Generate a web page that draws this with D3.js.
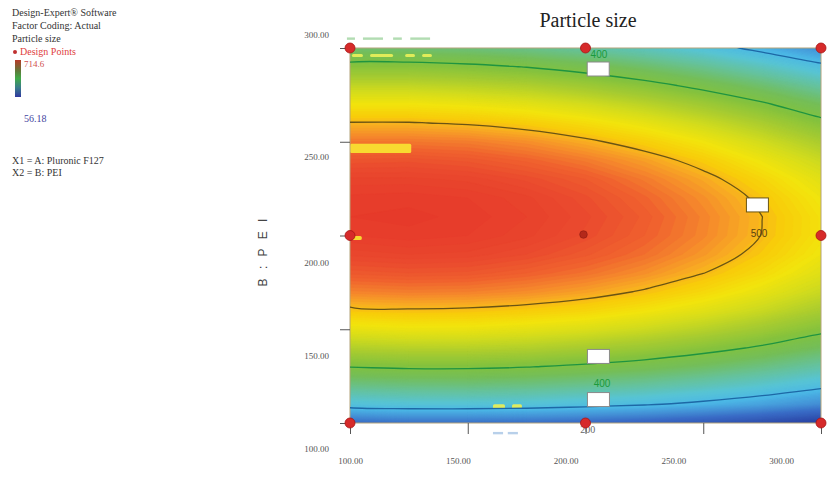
<!DOCTYPE html>
<html><head><meta charset="utf-8">
<script src="https://cdn.jsdelivr.net/npm/d3@7"></script>
<style>body{margin:0;background:#fff}svg{display:block}</style>
</head><body><svg id="c" width="831" height="489"></svg>
<script>
// ---------------- data ----------------
const factorA = [100, 125, 150, 175, 200, 225, 250, 275, 300];          // A: Pluronic F127 (columns)
const factorB = [100, 110, 120, 130, 140, 150, 160, 170, 180, 190, 200,
                 210, 220, 230, 240, 250, 260, 270, 280, 290, 300];     // B: PEI (rows)
// particle size, one row per B value
const particleSize = [
  [239, 243, 243, 241, 236, 229, 219, 207, 191],
  [314, 318, 318, 316, 310, 303, 293, 280, 264],
  [360, 363, 364, 361, 355, 348, 337, 324, 307],
  [401, 404, 404, 401, 395, 387, 376, 362, 345],
  [437, 440, 440, 437, 430, 422, 410, 396, 378],
  [469, 472, 471, 467, 461, 452, 440, 425, 407],
  [496, 498, 497, 493, 487, 477, 465, 450, 431],
  [518, 520, 519, 515, 508, 498, 485, 469, 450],
  [535, 537, 536, 531, 524, 514, 500.4, 484, 464],
  [547, 549, 548, 543, 535, 525, 511, 494, 474],
  [555, 557, 555, 550, 542, 531, 517, 499.5, 479],
  [558, 559, 557, 552, 544, 533, 518, 500.1, 479],
  [556, 557, 555, 550, 541, 529, 514, 496, 474],
  [550, 550, 548, 542, 534, 521, 506, 487, 465],
  [538, 539, 536, 530, 521, 509, 493, 473, 451],
  [522, 522, 520, 514, 504, 491, 475, 455, 432],
  [501, 501, 498, 492, 482, 469, 452, 432, 408],
  [476, 476, 472, 466, 456, 442, 425, 404, 380],
  [445, 445, 441, 435, 424, 410, 392, 371, 346],
  [410, 410, 406, 399, 388, 373, 355, 333, 308],
  [370, 369, 365, 358, 347, 332, 314, 291, 266]
];
const contourLevels = [300, 400, 500];
const designA = [100, 100, 100, 200, 200, 300, 300, 300];
const designB = [100, 200, 300, 100, 300, 100, 200, 300];
const centerA = [200];
const centerB = [200];
const xTickLabels = [100, 150, 200, 250, 300];
const yTickLabels = [100, 150, 200, 250, 300];
const legendMax = "714.6";
const legendMin = "56.18";
const contourLabelText = ["400", "400", "200", "500"];
const contourLabelA = [205.7, 207, 201, 273.7];
const contourLabelB = [296.3, 121.3, 96.8, 201.3];
const contourLabelLevel = [400, 400, 200, 500];
const labelBoxA = [205.4, 205.5, 205.5, 273];
const labelBoxB = [288.8, 135.5, 112.5, 216.3];
const labelBoxLevel = [400, 400, 300, 500];

// ---------------- drawing ----------------
const svg = d3.select('#c');
const x = d3.scaleLinear().domain([100, 300]).range([350, 821]);
const y = d3.scaleLinear().domain([100, 300]).range([423, 48]);
const xLab = d3.scaleLinear().domain([100, 300]).range([350, 781]);
const yLab = d3.scaleLinear().domain([100, 150, 200, 250, 300]).range([449, 356, 263, 157, 35]);

const stops = [
  [150, '#26368a'], [200, '#2c48a8'], [240, '#3a6cc6'], [270, '#4596d8'],
  [295, '#4cb8e6'], [320, '#58c4d4'], [350, '#66c29a'], [380, '#74be58'],
  [405, '#84c23e'], [430, '#a8cc30'], [455, '#d4dc1c'], [475, '#f2e40c'],
  [492, '#f8cc0a'], [503, '#f8ac22'], [515, '#f5882c'], [528, '#f0622e'],
  [542, '#ea4a2e'], [560, '#e6382a']
];
const color = d3.scaleLinear().domain(stops.map(d => d[0])).range(stops.map(d => d[1])).clamp(true);
const lineColor = {300: '#1d68a6', 400: '#1f9440', 500: '#6a5414'};

const nx = factorA.length, ny = factorB.length;
const stepA = factorA[1] - factorA[0], stepB = factorB[1] - factorB[0];
const values = particleSize.flat();
const toPx = p => [x(factorA[0] + (p[0] - 0.5) * stepA), y(factorB[0] + (p[1] - 0.5) * stepB)];
const proj = d3.geoTransform({point(px, py) { const p = toPx([px, py]); this.stream.point(p[0], p[1]); }});
const path = d3.geoPath(proj);

const defs = svg.append('defs');
defs.append('clipPath').attr('id', 'plotClip').append('rect')
  .attr('x', x(100)).attr('y', y(300)).attr('width', x(300) - x(100)).attr('height', y(100) - y(300));

// filled surface
const bands = d3.contours().size([nx, ny]).thresholds(d3.range(150, 562, 3))(values);
const gSurf = svg.append('g').attr('clip-path', 'url(#plotClip)');
gSurf.selectAll('path.band').data(bands).join('path').attr('class', 'band')
  .attr('d', path).attr('fill', d => color(d.value)).attr('stroke', d => color(d.value)).attr('stroke-width', 0.6);

// artifacts seen on the picture (in data units)
const artA0 = [100, 100.8, 100.8, 108.5, 123.4, 130.6, 160.7, 168.8];
const artA1 = [126, 105, 105.5, 118.3, 127.6, 134.8, 165.8, 173];
const artB0 = [244, 197.6, 295.2, 295.2, 295.2, 295.2, 107.5, 107.5];
const artB1 = [249, 199.8, 296.8, 296.8, 296.8, 296.8, 110, 110];
artA0.forEach((a, i) => {
  gSurf.append('rect').attr('x', x(a)).attr('y', y(artB1[i])).attr('width', x(artA1[i]) - x(a))
    .attr('height', y(artB0[i]) - y(artB1[i])).attr('rx', 1.5)
    .attr('fill', i < 2 ? '#f8e030' : '#e6ee5a').attr('opacity', 0.95);
});
const outA0 = [98.7, 105.5, 118.3, 125.6, 160.7, 167];
const outA1 = [102.1, 114, 122, 134, 165, 171.3];
const outB = [305, 305, 305, 305, 94.6, 94.6];
outA0.forEach((a, i) => {
  svg.append('rect').attr('x', x(a)).attr('y', y(outB[i]) - 1.2).attr('width', x(outA1[i]) - x(a))
    .attr('height', 2.4).attr('fill', i < 4 ? '#b2dcb2' : '#b8d0ea');
});

// frame
svg.append('rect').attr('x', x(100)).attr('y', y(300)).attr('width', x(300) - x(100)).attr('height', y(100) - y(300))
  .attr('fill', 'none').attr('stroke', '#b4a47a').attr('stroke-width', 1);

// contour lines
const lines = d3.contours().size([nx, ny]).thresholds(contourLevels)(values);
const lineGen = d3.line().curve(d3.curveCatmullRomClosed.alpha(0.5));
const gLines = svg.append('g').attr('clip-path', 'url(#plotClip)');
lines.forEach(c => {
  c.coordinates.forEach(poly => poly.forEach(ring => {
    const pts = ring.slice(0, -1).map(toPx);
    gLines.append('path').attr('d', lineGen(pts)).attr('fill', 'none')
      .attr('stroke', lineColor[c.value]).attr('stroke-width', 1.3);
  }));
});

// label boxes and contour labels
labelBoxA.forEach((a, i) => {
  svg.append('rect').attr('x', x(a) - 11).attr('y', y(labelBoxB[i]) - 7).attr('width', 22).attr('height', 14)
    .attr('fill', '#fff').attr('stroke', labelBoxLevel[i] === 500 ? '#6a5414' : '#8a8a8a').attr('stroke-width', 1);
});
contourLabelText.forEach((t, i) => {
  const lv = contourLabelLevel[i];
  svg.append('text').attr('x', x(contourLabelA[i])).attr('y', y(contourLabelB[i]))
    .attr('text-anchor', 'middle').attr('dominant-baseline', 'central')
    .attr('font-family', lv === 200 ? 'Liberation Serif' : 'Liberation Sans').attr('font-size', 10)
    .attr('fill', lv === 400 ? '#1a9a3c' : lv === 500 ? '#5a4410' : '#666').text(t);
});

// axes: ticks
const gx = svg.append('g').attr('transform', `translate(0,${y(100)})`)
  .call(d3.axisBottom(x).tickValues(xTickLabels).tickSize(11).tickFormat(''));
gx.select('.domain').remove();
gx.selectAll('line').attr('stroke', '#555');
const gy = svg.append('g').attr('transform', `translate(${x(100)},0)`)
  .call(d3.axisLeft(y).tickValues(yTickLabels).tickSize(10).tickFormat(''));
gy.select('.domain').remove();
gy.selectAll('line').attr('stroke', '#555');

// axes: labels
const gxl = svg.append('g').attr('transform', 'translate(0,458)')
  .call(d3.axisBottom(xLab).tickValues(xTickLabels).tickSize(0).tickPadding(0).tickFormat(d3.format('.2f')));
gxl.select('.domain').remove();
gxl.selectAll('text').attr('font-family', 'Liberation Serif').attr('font-size', 9).attr('fill', '#555');
const gyl = svg.append('g').attr('transform', 'translate(329,0)')
  .call(d3.axisLeft(yLab).tickValues(yTickLabels).tickSize(0).tickPadding(0).tickFormat(d3.format('.2f')));
gyl.select('.domain').remove();
gyl.selectAll('text').attr('font-family', 'Liberation Serif').attr('font-size', 9).attr('fill', '#555');

// design points
designA.forEach((a, i) => {
  svg.append('circle').attr('cx', x(a)).attr('cy', y(designB[i])).attr('r', 5)
    .attr('fill', '#d62a2a').attr('stroke', '#a81414').attr('stroke-width', 0.8);
});
centerA.forEach((a, i) => {
  svg.append('circle').attr('cx', x(a) - 2).attr('cy', y(centerB[i]) - 1).attr('r', 3.8)
    .attr('fill', '#b4281a').attr('stroke', '#8a1a10').attr('stroke-width', 0.6);
});

// titles
svg.append('text').attr('x', 588).attr('y', 27).attr('text-anchor', 'middle')
  .attr('font-family', 'Liberation Serif').attr('font-size', 20).attr('fill', '#222').text('Particle size');
svg.append('text').attr('transform', 'translate(267,251) rotate(-90)').attr('text-anchor', 'middle')
  .attr('font-family', 'Liberation Sans').attr('font-size', 12).attr('letter-spacing', 3)
  .attr('fill', '#444').text('B : P E I');

// left info panel
const info = svg.append('g').attr('font-family', 'Liberation Serif').attr('font-size', 10);
info.append('text').attr('x', 12).attr('y', 16).attr('fill', '#333').text('Design-Expert® Software');
info.append('text').attr('x', 12).attr('y', 29).attr('fill', '#333').text('Factor Coding: Actual');
info.append('text').attr('x', 12).attr('y', 42).attr('fill', '#333').text('Particle size');
info.append('circle').attr('cx', 15).attr('cy', 52).attr('r', 2).attr('fill', '#c03030');
info.append('text').attr('x', 20).attr('y', 55).attr('fill', '#e04040').text('Design Points');
const grad = defs.append('linearGradient').attr('id', 'cbar').attr('x1', 0).attr('x2', 0).attr('y1', 0).attr('y2', 1);
[['0', '#b83a2a'], ['0.3', '#5e7a3a'], ['0.5', '#40aa48'], ['0.75', '#3a7c8c'], ['1', '#3038a0']]
  .forEach(s => grad.append('stop').attr('offset', s[0]).attr('stop-color', s[1]));
info.append('rect').attr('x', 15).attr('y', 60).attr('width', 6).attr('height', 37).attr('fill', 'url(#cbar)');
info.append('text').attr('x', 24).attr('y', 67).attr('fill', '#d05050').attr('font-size', 9).text(legendMax);
info.append('text').attr('x', 24).attr('y', 122).attr('fill', '#4444a0').text(legendMin);
info.append('text').attr('x', 12).attr('y', 164).attr('fill', '#333').text('X1 = A: Pluronic F127');
info.append('text').attr('x', 12).attr('y', 176).attr('fill', '#333').text('X2 = B: PEI');
</script></body></html>
